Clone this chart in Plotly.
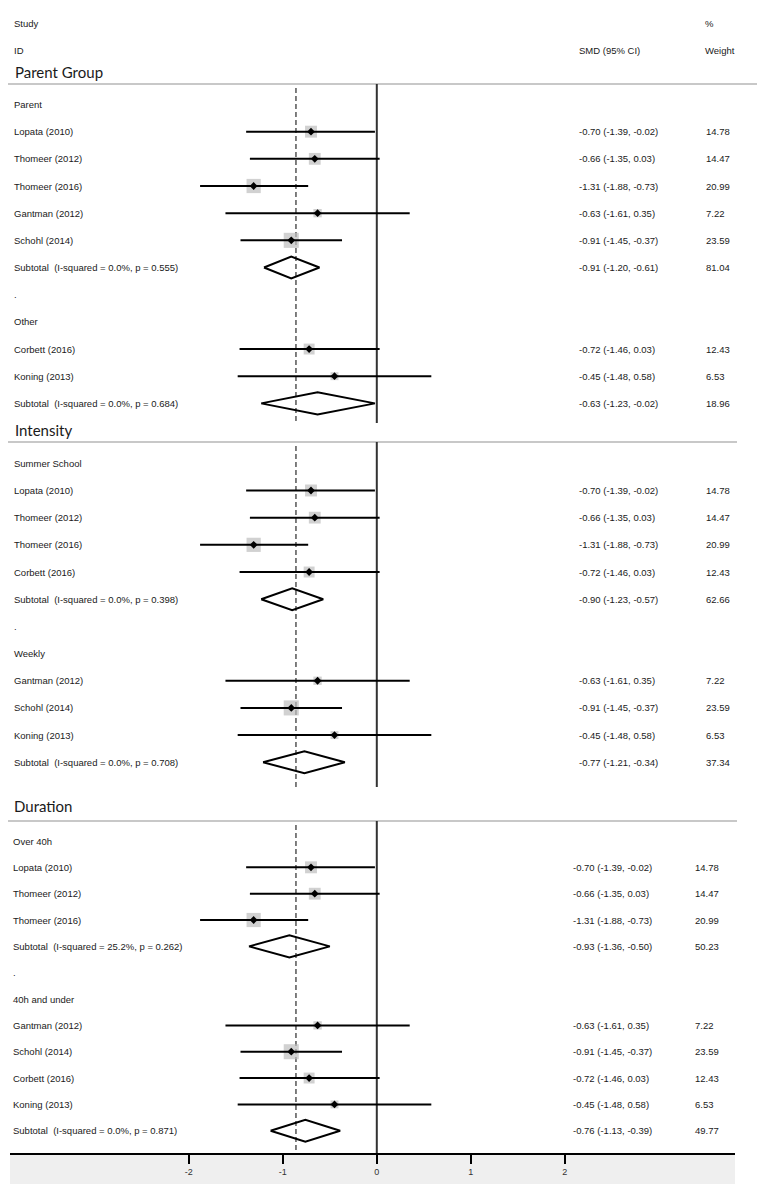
import math
import plotly.graph_objects as go

# study level results (SMD, 95% CI, % weight)
studies = ["Lopata (2010)", "Thomeer (2012)", "Thomeer (2016)", "Gantman (2012)",
           "Schohl (2014)", "Corbett (2016)", "Koning (2013)"]
smd = [-0.70, -0.66, -1.31, -0.63, -0.91, -0.72, -0.45]
ci_low = [-1.39, -1.35, -1.88, -1.61, -1.45, -1.46, -1.48]
ci_high = [-0.02, 0.03, -0.73, 0.35, -0.37, 0.03, 0.58]
weight = [14.78, 14.47, 20.99, 7.22, 23.59, 12.43, 6.53]

# subgroup analyses
section_titles = ["Parent Group", "Intensity", "Duration"]
subgroup_names = [["Parent", "Other"], ["Summer School", "Weekly"], ["Over 40h", "40h and under"]]
subgroup_members = [[[0, 1, 2, 3, 4], [5, 6]],
                    [[0, 1, 2, 5], [3, 4, 6]],
                    [[0, 1, 2], [3, 4, 5, 6]]]
subtotal_i2 = [["0.0%", "0.0%"], ["0.0%", "0.0%"], ["25.2%", "0.0%"]]
subtotal_p = [["0.555", "0.684"], ["0.398", "0.708"], ["0.262", "0.871"]]
subtotal_smd = [[-0.91, -0.63], [-0.90, -0.77], [-0.93, -0.76]]
subtotal_low = [[-1.20, -1.23], [-1.23, -1.21], [-1.36, -1.13]]
subtotal_high = [[-0.61, -0.02], [-0.57, -0.34], [-0.50, -0.39]]
subtotal_weight = [[81.04, 18.96], [62.66, 37.34], [50.23, 49.77]]
overall_smd = -0.86
x_ticks = [-2, -1, 0, 1, 2]
x_tick_labels = ["-2", "-1", "0", "1", "2"]

# page geometry in window pixels; the html body adds an 8px margin
PAGE_PAD = 8
W, H = 765 - PAGE_PAD, 1184 - PAGE_PAD
PLOT_LEFT, PLOT_RIGHT, PLOT_BOTTOM = 10, 735, 1153
ZERO_PX, UNIT_PX = 376.8, 94.0
title_y = [72, 430, 806]
sep_y = [84, 442, 821]
first_row = [104.5, 463.3, 841]
row_step = [27.17, 27.18, 26.34]
line_end = [423, 787, PLOT_BOTTOM]
sep_right = [765, 737, 737]
left_x = [12, 12, 11]
est_x = [577, 577, 571]
wt_x = [704, 704, 693]

FONT = "Liberation Sans, Arial, sans-serif"
TXT = "#1a1a1a"


def px(p):
    return (p - PLOT_LEFT) / (PLOT_RIGHT - PLOT_LEFT)


annotations = []


def label(x, y, text, size=9.5, family=FONT):
    annotations.append(dict(x=px(x), y=y, xref="paper", yref="y", text=text,
                            showarrow=False, xanchor="left", yanchor="middle",
                            font=dict(size=size, family=family, color=TXT)))


def fmt_ci(e, lo, hi):
    return f"{e:.2f} ({lo:.2f}, {hi:.2f})"


# header
label(12, 23, "Study")
label(12, 50, "ID")
label(703, 23, "%")
label(577, 50, "SMD (95% CI)")
label(703, 50, "Weight")

ci_x, ci_y = [], []
sq_x, sq_y, sq_s = [], [], []
dia_x, dia_y = [], []
shapes = []

for s, title in enumerate(section_titles):
    label(left_x[s] + 1, title_y[s], title, size=15, family="Lato, Open Sans, sans-serif")
    shapes.append(dict(type="line", xref="paper", yref="y", x0=px(5), x1=px(sep_right[s]),
                       y0=sep_y[s], y1=sep_y[s], line=dict(color="#c8c8c8", width=2), layer="below"))
    shapes.append(dict(type="line", xref="x", yref="y", x0=0, x1=0, y0=sep_y[s], y1=line_end[s],
                       line=dict(color="#333333", width=2), layer="below"))
    shapes.append(dict(type="line", xref="x", yref="y", x0=overall_smd, x1=overall_smd,
                       y0=sep_y[s] + 4, y1=line_end[s], layer="below",
                       line=dict(color="#555555", width=1.5, dash="5px,3px")))
    row = 0
    for g, gname in enumerate(subgroup_names[s]):
        if g > 0:
            label(left_x[s], first_row[s] + row * row_step[s], ".")
            row += 1
        label(left_x[s], first_row[s] + row * row_step[s], gname)
        row += 1
        for i in subgroup_members[s][g]:
            y = first_row[s] + row * row_step[s]
            label(left_x[s], y, studies[i])
            label(est_x[s], y, fmt_ci(smd[i], ci_low[i], ci_high[i]))
            label(wt_x[s], y, f"{weight[i]:.2f}")
            ci_x += [ci_low[i], ci_high[i], None]
            ci_y += [y, y, None]
            sq_x.append(smd[i])
            sq_y.append(y)
            sq_s.append(3.1 * math.sqrt(weight[i]))
            row += 1
        y = first_row[s] + row * row_step[s]
        label(left_x[s], y, f"Subtotal\u00a0 (I-squared = {subtotal_i2[s][g]}, p = {subtotal_p[s][g]})")
        label(est_x[s], y, fmt_ci(subtotal_smd[s][g], subtotal_low[s][g], subtotal_high[s][g]))
        label(wt_x[s], y, f"{subtotal_weight[s][g]:.2f}")
        e, lo, hi = subtotal_smd[s][g], subtotal_low[s][g], subtotal_high[s][g]
        dia_x += [lo, e, hi, e, lo, None]
        dia_y += [y, y - 11, y, y + 11, y, None]
        row += 1

# gray band under the axis
plot_h = PLOT_BOTTOM - PAGE_PAD
shapes.append(dict(type="rect", xref="paper", yref="paper", x0=0, x1=1, y0=-(1184 - PLOT_BOTTOM) / plot_h,
                   y1=0, fillcolor="#efefef", line=dict(width=0), layer="below"))

fig = go.Figure()

fig.add_trace(go.Scatter(
    x=sq_x, y=sq_y, mode="markers",
    marker=dict(symbol="square", size=sq_s, color="#bdbdbd", line=dict(width=0)),
    hoverinfo="skip"
))

fig.add_trace(go.Scatter(
    x=ci_x, y=ci_y, mode="lines",
    line=dict(color="black", width=2),
    hoverinfo="skip"
))

fig.add_trace(go.Scatter(
    x=sq_x, y=sq_y, mode="markers",
    marker=dict(symbol="diamond", size=6, color="black"),
    hoverinfo="skip"
))

fig.add_trace(go.Scatter(
    x=dia_x, y=dia_y, mode="lines",
    line=dict(color="black", width=2),
    hoverinfo="skip"
))

fig.update_layout(
    width=W,
    height=H,
    margin=dict(l=PLOT_LEFT - PAGE_PAD, r=765 - PLOT_RIGHT, t=0, b=1184 - PLOT_BOTTOM),
    paper_bgcolor="white",
    plot_bgcolor="white",
    showlegend=False,
    shapes=shapes,
    annotations=annotations,
    xaxis=dict(
        range=[(PLOT_LEFT - ZERO_PX) / UNIT_PX, (PLOT_RIGHT - ZERO_PX) / UNIT_PX],
        tickvals=x_ticks,
        ticktext=x_tick_labels,
        ticks="outside",
        ticklen=9,
        tickwidth=2,
        tickcolor="black",
        showline=True,
        linecolor="black",
        linewidth=2,
        showgrid=False,
        zeroline=False,
        tickfont=dict(size=9, family=FONT, color="#333333"),
    ),
    yaxis=dict(
        range=[PLOT_BOTTOM, PAGE_PAD],
        visible=False,
        showgrid=False,
        zeroline=False,
    ),
)

fig.write_html("out.html")
